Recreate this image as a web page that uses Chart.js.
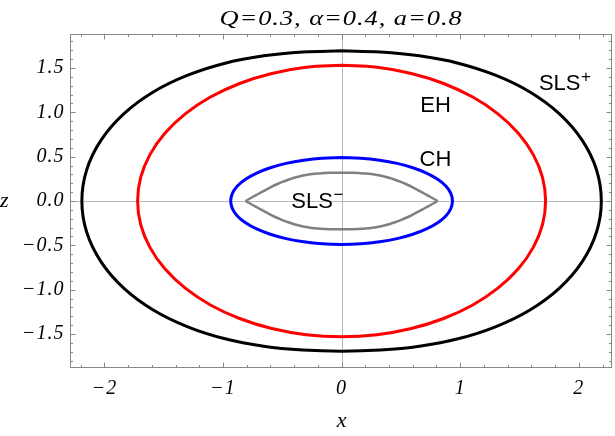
<!DOCTYPE html>
<html>
<head>
<meta charset="utf-8">
<script src="https://cdn.jsdelivr.net/npm/chart.js@4.4.1/dist/chart.umd.min.js"></script>
<style>
  html, body { margin: 0; padding: 0; background: #ffffff; }
  #wrap { width: 615px; height: 436px; }
</style>
</head>
<body>
<div id="wrap"><canvas id="c" width="615" height="436"></canvas></div>
<script>
// ---------- chart text ----------
const TITLE = 'Q=0.3, \u03B1=0.4, a=0.8';
const X_NAME = 'x';
const Z_NAME = 'z';

// ---------- axes ----------
const X_TICKS = [-2, -1, 0, 1, 2];
const Z_TICKS = [-1.5, -1, -0.5, 0, 0.5, 1, 1.5];
const X_RANGE = [-2.29, 2.28];
const Z_RANGE = [-1.883, 1.883];

// ---------- curves ----------
// SLS+ (black)
const slsPlusX = [0, 0.327, 0.656, 0.982, 1.297, 1.588, 1.837, 2.028, 2.149, 2.19, 2.149, 2.028, 1.837, 1.588, 1.297, 0.982, 0.656, 0.327, 0,
  -0.327, -0.656, -0.982, -1.297, -1.588, -1.837, -2.028, -2.149, -2.19, -2.149, -2.028, -1.837, -1.588, -1.297, -0.982, -0.656, -0.327, 0];
const slsPlusZ = [1.693, 1.680, 1.637, 1.554, 1.419, 1.229, 0.982, 0.686, 0.353, 0, -0.353, -0.686, -0.982, -1.229, -1.419, -1.554, -1.637, -1.680, -1.693,
  -1.680, -1.637, -1.554, -1.419, -1.229, -0.982, -0.686, -0.353, 0, 0.353, 0.686, 0.982, 1.229, 1.419, 1.554, 1.637, 1.680, 1.693];

// EH (red)
const ehX = [0, 0.299, 0.588, 0.86, 1.106, 1.318, 1.49, 1.616, 1.694, 1.72, 1.694, 1.616, 1.49, 1.318, 1.106, 0.86, 0.588, 0.299, 0,
  -0.299, -0.588, -0.86, -1.106, -1.318, -1.49, -1.616, -1.694, -1.72, -1.694, -1.616, -1.49, -1.318, -1.106, -0.86, -0.588, -0.299, 0];
const ehZ = [1.53, 1.507, 1.438, 1.325, 1.172, 0.983, 0.765, 0.523, 0.266, 0, -0.266, -0.523, -0.765, -0.983, -1.172, -1.325, -1.438, -1.507, -1.53,
  -1.507, -1.438, -1.325, -1.172, -0.983, -0.765, -0.523, -0.266, 0, 0.266, 0.523, 0.765, 0.983, 1.172, 1.325, 1.438, 1.507, 1.53];

// CH (blue)
const chX = [0, 0.162, 0.32, 0.468, 0.601, 0.716, 0.81, 0.879, 0.921, 0.935, 0.921, 0.879, 0.81, 0.716, 0.601, 0.468, 0.32, 0.162, 0,
  -0.162, -0.32, -0.468, -0.601, -0.716, -0.81, -0.879, -0.921, -0.935, -0.921, -0.879, -0.81, -0.716, -0.601, -0.468, -0.32, -0.162, 0];
const chZ = [0.49, 0.483, 0.46, 0.424, 0.375, 0.315, 0.245, 0.168, 0.085, 0, -0.085, -0.168, -0.245, -0.315, -0.375, -0.424, -0.46, -0.483, -0.49,
  -0.483, -0.46, -0.424, -0.375, -0.315, -0.245, -0.168, -0.085, 0, 0.085, 0.168, 0.245, 0.315, 0.375, 0.424, 0.46, 0.483, 0.49];

// SLS- (gray), upper and lower branches meeting in cusps
const slsMinusUpperX = [0.81, 0.75, 0.70, 0.65, 0.60, 0.55, 0.50, 0.45, 0.40, 0.35, 0.30, 0.25, 0.20, 0.15, 0.10, 0,
  -0.10, -0.15, -0.20, -0.25, -0.30, -0.35, -0.40, -0.45, -0.50, -0.55, -0.60, -0.65, -0.70, -0.75, -0.81];
const slsMinusUpperZ = [0, 0.045, 0.082, 0.118, 0.153, 0.186, 0.215, 0.240, 0.262, 0.280, 0.294, 0.304, 0.311, 0.315, 0.318, 0.319,
  0.318, 0.315, 0.311, 0.304, 0.294, 0.280, 0.262, 0.240, 0.215, 0.186, 0.153, 0.118, 0.082, 0.045, 0];
const slsMinusLowerX = [0.81, 0.75, 0.70, 0.65, 0.60, 0.55, 0.50, 0.45, 0.40, 0.35, 0.30, 0.25, 0.20, 0.15, 0.10, 0,
  -0.10, -0.15, -0.20, -0.25, -0.30, -0.35, -0.40, -0.45, -0.50, -0.55, -0.60, -0.65, -0.70, -0.75, -0.81];
const slsMinusLowerZ = [0, -0.045, -0.082, -0.118, -0.153, -0.186, -0.215, -0.240, -0.262, -0.280, -0.294, -0.304, -0.311, -0.315, -0.318, -0.319,
  -0.318, -0.315, -0.311, -0.304, -0.294, -0.280, -0.262, -0.240, -0.215, -0.186, -0.153, -0.118, -0.082, -0.045, 0];

// ---------- curve labels (text, superscript, anchor in data coords: left / baseline) ----------
const CURVE_LABELS = [
  { text: 'SLS', sup: '+',      x: 1.664,  z: 1.25 },
  { text: 'EH',  sup: '',       x: 0.663,  z: 1.006 },
  { text: 'CH',  sup: '',       x: 0.657,  z: 0.394 },
  { text: 'SLS', sup: '\u2212', x: -0.424, z: -0.082 }
];

// ---------- helpers ----------
function pts(xs, zs) { return xs.map((x, i) => ({ x: x, y: zs[i] })); }
function signed(v, digits) {
  const s = digits > 0 ? Math.abs(v).toFixed(digits) : String(Math.abs(v));
  return (v < 0 ? '\u2212' : '') + s;
}

const SERIF = '"Liberation Serif", "Times New Roman", Times, serif';
const SANS = '"Liberation Sans", Arial, sans-serif';
const FRAME_COLOR = '#878787';

const decorPlugin = {
  id: 'decor',
  beforeDraw(chart) {
    chart.ctx.letterSpacing = '1px';
  },
  beforeDatasetsDraw(chart) {
    const { ctx, chartArea: a, scales } = chart;
    const x0 = Math.round(scales.x.getPixelForValue(0)) + 0.5;
    const y0 = Math.round(scales.y.getPixelForValue(0)) + 0.5;
    ctx.save();
    ctx.strokeStyle = '#b8b8b8';
    ctx.lineWidth = 1;
    ctx.beginPath();
    ctx.moveTo(x0, a.top); ctx.lineTo(x0, a.bottom);
    ctx.moveTo(a.left, y0); ctx.lineTo(a.right, y0);
    ctx.stroke();
    ctx.restore();
  },
  afterDatasetsDraw(chart) {
    const { ctx, chartArea: a, scales } = chart;
    ctx.save();
    ctx.strokeStyle = FRAME_COLOR;
    ctx.lineWidth = 1;
    const L = Math.round(a.left) + 0.5, R = Math.round(a.right) - 0.5;
    const T = Math.round(a.top) + 0.5, B = Math.round(a.bottom) - 0.5;
    ctx.strokeRect(L, T, R - L, B - T);
    ctx.beginPath();
    for (let k = -11; k <= 11; k++) {
      const v = k * 0.2;
      if (v < X_RANGE[0] || v > X_RANGE[1]) continue;
      const px = Math.round(scales.x.getPixelForValue(v)) + 0.5;
      const len = (k % 5 === 0) ? 5 : 2.5;
      ctx.moveTo(px, B); ctx.lineTo(px, B - len);
      ctx.moveTo(px, T); ctx.lineTo(px, T + len);
    }
    for (let k = -18; k <= 18; k++) {
      const v = k * 0.1;
      const py = Math.round(scales.y.getPixelForValue(v)) + 0.5;
      const len = (k % 5 === 0) ? 5 : 2.5;
      ctx.moveTo(L, py); ctx.lineTo(L + len, py);
      ctx.moveTo(R, py); ctx.lineTo(R - len, py);
    }
    ctx.stroke();
    ctx.restore();
  },
  afterDraw(chart) {
    const { ctx, chartArea: a, scales } = chart;
    ctx.save();
    ctx.fillStyle = '#000000';
    // title
    ctx.letterSpacing = '0.8px';
    ctx.font = 'italic 22px ' + SERIF;
    ctx.textAlign = 'center';
    ctx.textBaseline = 'middle';
    ctx.save();
    ctx.translate((a.left + a.right) / 2, 19.5);
    ctx.scale(1.2, 1);
    ctx.fillText(TITLE, 0, 0);
    ctx.restore();
    // axis names
    ctx.letterSpacing = '0px';
    ctx.font = 'italic 22px ' + SERIF;
    ctx.textAlign = 'left';
    ctx.fillText(Z_NAME, 0, 201.5);
    ctx.textAlign = 'center';
    ctx.fillText(X_NAME, scales.x.getPixelForValue(0), 421.5);
    // curve labels
    ctx.textAlign = 'left';
    ctx.textBaseline = 'alphabetic';
    CURVE_LABELS.forEach(l => {
      const px = scales.x.getPixelForValue(l.x);
      const py = scales.y.getPixelForValue(l.z);
      ctx.font = '22px ' + SANS;
      ctx.fillText(l.text, px, py);
      if (l.sup) {
        const w = ctx.measureText(l.text).width;
        ctx.font = '17px ' + SANS;
        ctx.fillText(l.sup, px + w + 0.5, py - 8);
      }
    });
    ctx.restore();
  }
};

const lineDs = (label, xs, zs, color, width, tension) => ({
  label: label,
  data: pts(xs, zs),
  showLine: true,
  borderColor: color,
  backgroundColor: color,
  borderWidth: width,
  pointRadius: 0,
  pointHoverRadius: 0,
  fill: false,
  tension: tension
});

new Chart(document.getElementById('c'), {
  type: 'scatter',
  data: {
    datasets: [
      lineDs('SLS+', slsPlusX, slsPlusZ, '#000000', 3, 0.4),
      lineDs('EH', ehX, ehZ, '#ff0000', 3, 0.4),
      lineDs('CH', chX, chZ, '#0000ff', 3, 0.4),
      lineDs('SLS-', slsMinusUpperX, slsMinusUpperZ, '#808080', 2.5, 0.4),
      lineDs('SLS- (lower)', slsMinusLowerX, slsMinusLowerZ, '#808080', 2.5, 0.4)
    ]
  },
  options: {
    responsive: false,
    devicePixelRatio: 1,
    animation: false,
    events: [],
    layout: { padding: { top: 34, right: 3, left: 0, bottom: 0 } },
    plugins: {
      legend: { display: false },
      tooltip: { enabled: false },
      title: { display: false }
    },
    scales: {
      x: {
        type: 'linear',
        min: X_RANGE[0],
        max: X_RANGE[1],
        grid: { display: false, drawTicks: false },
        border: { display: false },
        afterBuildTicks: s => { s.ticks = X_TICKS.map(v => ({ value: v })); },
        afterFit: s => { s.height = 68; },
        ticks: {
          autoSkip: false,
          maxRotation: 0,
          padding: 9,
          color: '#000000',
          font: { family: SERIF, style: 'italic', size: 20 },
          callback: v => signed(v, 0)
        }
      },
      y: {
        type: 'linear',
        min: Z_RANGE[0],
        max: Z_RANGE[1],
        grid: { display: false, drawTicks: false },
        border: { display: false },
        afterBuildTicks: s => { s.ticks = Z_TICKS.map(v => ({ value: v })); },
        afterFit: s => { s.width = 70; },
        ticks: {
          autoSkip: false,
          padding: 5.5,
          color: '#000000',
          font: { family: SERIF, style: 'italic', size: 20 },
          callback: v => signed(v, 1)
        }
      }
    }
  },
  plugins: [decorPlugin]
});
</script>
</body>
</html>
